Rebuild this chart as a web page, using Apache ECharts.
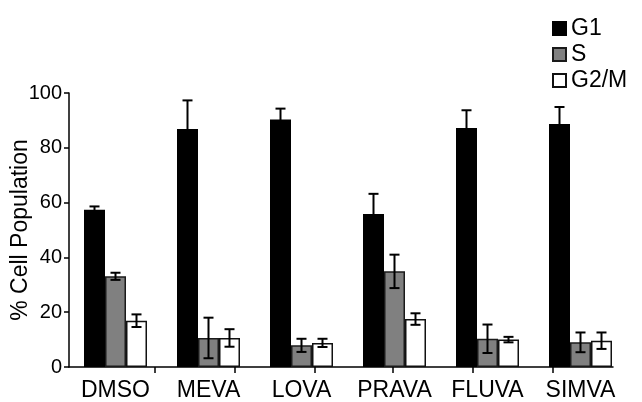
<!DOCTYPE html>
<html>
<head>
<meta charset="utf-8">
<script src="https://cdn.jsdelivr.net/npm/echarts@6/dist/echarts.min.js"></script>
<style>html,body{margin:0;padding:0;background:#fff;}#c{width:642px;height:402px;}</style>
</head>
<body>
<div id="c"></div>
<script>
const categories = ['DMSO', 'MEVA', 'LOVA', 'PRAVA', 'FLUVA', 'SIMVA'];
const seriesNames = ['G1', 'S', 'G2/M'];
const g1 = [57.4, 86.9, 90.3, 55.8, 87.2, 88.7];
const g1Err = [1.2, 10.4, 4.0, 7.4, 6.5, 6.2];
const s = [33.1, 10.6, 7.9, 34.9, 10.3, 9.0];
const sErr = [1.3, 7.4, 2.4, 6.1, 5.2, 3.6];
const g2m = [16.9, 10.6, 8.8, 17.5, 10.0, 9.6];
const g2mErr = [2.3, 3.2, 1.5, 2.1, 1.0, 3.0];
const yTicks = [0, 20, 40, 60, 80, 100];

const FONT = 'Liberation Sans, Arial, Helvetica, sans-serif';
const BAR_W = 21;
const values = [g1, s, g2m];
const errs = [g1Err, sErr, g2mErr];
const fills = ['#000000', '#808080', '#ffffff'];
const borders = ['#000000', '#1a1a1a', '#111111'];

const chart = echarts.init(document.getElementById('c'), null, {renderer: 'canvas'});

const barSeries = seriesNames.map((name, i) => ({
  name: name,
  type: 'bar',
  xAxisIndex: 0,
  yAxisIndex: 0,
  barWidth: BAR_W,
  barGap: '0%',
  data: values[i],
  itemStyle: {color: fills[i], borderColor: borders[i], borderWidth: 1.5},
  emphasis: {disabled: true},
  z: 2
}));

const errSeries = seriesNames.map((name, i) => ({
  name: name + ' err',
  type: 'custom',
  xAxisIndex: 0,
  yAxisIndex: 0,
  z: 5,
  silent: true,
  data: values[i].map((v, k) => [k, v, errs[i][k]]),
  renderItem: function (params, api) {
    const k = api.value(0), v = api.value(1), e = api.value(2);
    const off = (i - 1) * BAR_W;
    const top = api.coord([k, v + e]);
    const bot = api.coord([k, v - e]);
    const x = top[0] + off;
    const hw = 5;
    const st = {stroke: '#000', lineWidth: 2};
    return {
      type: 'group',
      children: [
        {type: 'line', shape: {x1: x, y1: top[1], x2: x, y2: bot[1]}, style: st},
        {type: 'line', shape: {x1: x - hw, y1: top[1], x2: x + hw, y2: top[1]}, style: st},
        {type: 'line', shape: {x1: x - hw, y1: bot[1], x2: x + hw, y2: bot[1]}, style: st}
      ]
    };
  }
}));

const option = {
  animation: false,
  backgroundColor: '#ffffff',
  textStyle: {fontFamily: FONT, color: '#000'},
  legend: {
    data: seriesNames,
    orient: 'vertical',
    left: 547,
    top: 12,
    itemWidth: 13,
    itemHeight: 13,
    itemGap: 3,
    icon: 'rect',
    textStyle: {fontFamily: FONT, fontSize: 23, lineHeight: 21, color: '#000'}
  },
  grid: [
    {left: 69, right: 15, top: 93, bottom: 35, containLabel: false, outerBoundsMode: 'none'},
    {left: 69, right: 29, top: 93, bottom: 35, containLabel: false, outerBoundsMode: 'none'}
  ],
  xAxis: [
    {
      type: 'category',
      gridIndex: 0,
      data: categories,
      axisLine: {show: false},
      axisTick: {show: false},
      axisLabel: {fontFamily: FONT, fontSize: 23, color: '#000', margin: 12, interval: 0}
    },
    {
      type: 'value',
      gridIndex: 1,
      min: 0,
      max: 544,
      splitLine: {show: false},
      axisLabel: {show: false},
      axisLine: {show: true, lineStyle: {color: '#000', width: 1.5}},
      axisTick: {show: true, length: 6, lineStyle: {color: '#000', width: 1.5}, customValues: [86, 166, 246, 324, 404, 484]}
    }
  ],
  yAxis: [
    {
      type: 'value',
      gridIndex: 0,
      min: 0,
      max: 100,
      interval: 20,
      name: '% Cell Population',
      nameLocation: 'middle',
      nameGap: 37,
      nameMoveOverlap: false,
      nameTextStyle: {fontFamily: FONT, fontSize: 23, color: '#000'},
      splitLine: {show: false},
      axisLine: {show: true, lineStyle: {color: '#000', width: 1.5}},
      axisTick: {show: true, length: 5, lineStyle: {color: '#000', width: 1.5}},
      axisLabel: {fontFamily: FONT, fontSize: 20, color: '#000', margin: 7,
        customValues: yTicks}
    },
    {
      type: 'value',
      gridIndex: 1,
      min: 0,
      max: 100,
      show: false
    }
  ],
  series: barSeries.concat(errSeries)
};
chart.setOption(option);
</script>
</body>
</html>
